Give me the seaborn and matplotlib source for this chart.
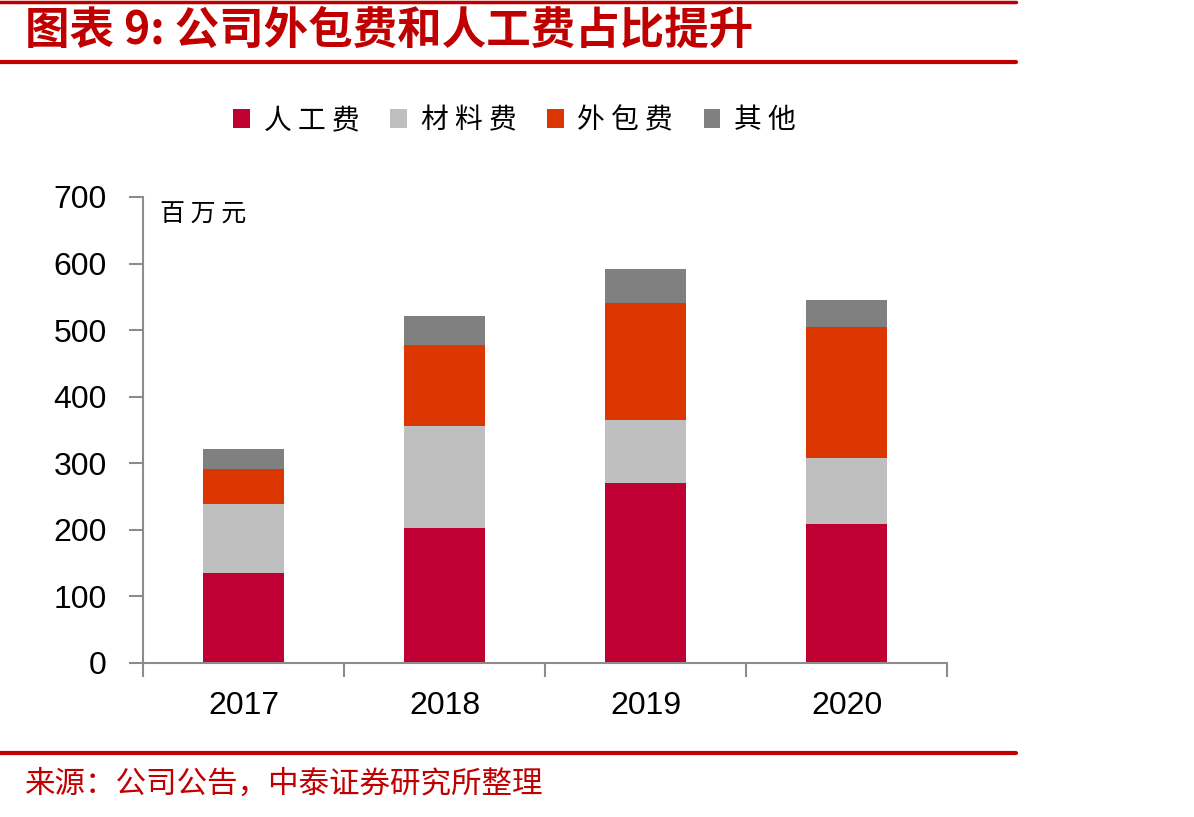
import numpy as np
import pandas as pd
import matplotlib
matplotlib.use("Agg")
import matplotlib.pyplot as plt
import seaborn as sns
from matplotlib.patches import Patch
from matplotlib.lines import Line2D

# 数据（百万元）
years = ["2017", "2018", "2019", "2020"]
labor = [135, 203, 270, 209]       # 人工费
material = [104, 153, 95, 99]      # 材料费
outsource = [52, 122, 176, 197]    # 外包费
other = [30, 43, 51, 40]           # 其他

series_names = ["人工费", "材料费", "外包费", "其他"]
colors = ["#BE0032", "#BFBFBF", "#DC3700", "#808080"]

sns.set_style("white")
plt.rcParams['font.family'] = ['Noto Sans CJK SC', 'DejaVu Sans']
plt.rcParams['text.color'] = 'black'
plt.rcParams['xtick.color'] = 'black'
plt.rcParams['ytick.color'] = 'black'

fig = plt.figure(figsize=(11.94, 8.17), dpi=100)
ax = fig.add_axes([0.1198, 0.1885, 0.6734, 0.5704])

# 堆叠：从总和往下画
df = pd.DataFrame({"年份": years, "人工费": labor, "材料费": material,
                   "外包费": outsource, "其他": other})
cum = df[series_names].cumsum(axis=1)
for name, col in reversed(list(zip(series_names, colors))):
    sns.barplot(x=df["年份"], y=cum[name], color=col, width=0.4,
                saturation=1, ax=ax, linewidth=0)

ax.set_xlim(-0.5, 3.5)
ax.set_ylim(0, 700)
ax.set_yticks(range(0, 701, 100))
ax.set_xlabel("")
ax.set_ylabel("")

for s in ["top", "right"]:
    ax.spines[s].set_visible(False)
for s in ["left", "bottom"]:
    ax.spines[s].set_color("#8C8C8C")
    ax.spines[s].set_linewidth(1.5)

ax.tick_params(axis="y", left=True, direction="out", length=10, width=1.5,
               color="#8C8C8C", labelcolor="black", labelsize=23, pad=16)
ax.tick_params(axis="x", which="major", bottom=False, length=0, labelsize=23,
               labelcolor="black", pad=20)
ax.set_xticks(np.arange(-0.5, 4.0, 1.0), minor=True)
ax.tick_params(axis="x", which="minor", bottom=True, direction="out", length=10,
               width=1.5, color="#8C8C8C")
for lab in ax.get_yticklabels() + ax.get_xticklabels():
    lab.set_family(['Liberation Sans', 'DejaVu Sans'])

ax.text(0.021, 0.962, "百 万 元", transform=ax.transAxes, fontsize=18,
        va="center", ha="left", color="black")

# 图例
handles = [Patch(facecolor=c, edgecolor="none") for c in colors]
fig.legend(handles, ["人 工 费", "材 料 费", "外 包 费", "其 他"], loc="center",
           bbox_to_anchor=(0.431, 0.853), ncol=4, frameon=False, fontsize=20,
           handlelength=0.6, handleheight=0.7, handletextpad=0.5,
           columnspacing=1.1)

# 标题与红线
red = "#C00000"
fig.add_artist(Line2D([0, 0.851], [0.997, 0.997], color=red, lw=2.5,
                      transform=fig.transFigure))
fig.add_artist(Line2D([0, 0.851], [0.924, 0.924], color=red, lw=3,
                      transform=fig.transFigure))
fig.add_artist(Line2D([0, 0.851], [0.078, 0.078], color=red, lw=3,
                      transform=fig.transFigure))
fig.text(0.021, 0.962, "图表 9: 公司外包费和人工费占比提升", fontsize=32,
         fontweight="bold", style="italic", color=red, va="center", ha="left")
fig.text(0.021, 0.040, "来源：公司公告，中泰证券研究所整理", fontsize=22,
         color=red, va="center", ha="left")

fig.savefig("out.png", dpi=100)
